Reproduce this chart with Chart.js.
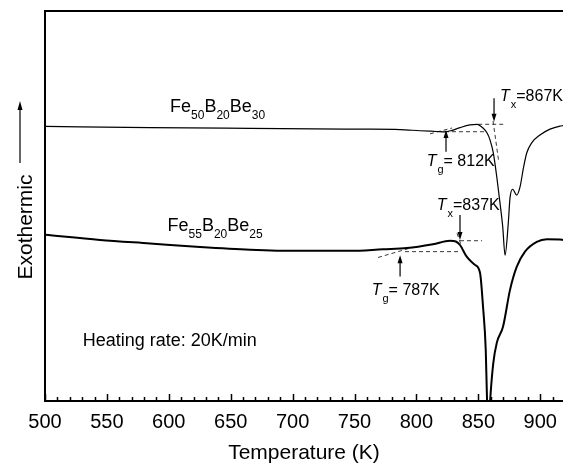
<!DOCTYPE html>
<html>
<head>
<meta charset="utf-8">
<script src="https://cdn.jsdelivr.net/npm/chart.js@4.4.0/dist/chart.umd.min.js"></script>
<style>
  body { margin: 0; background: #fff; }
</style>
</head>
<body>
<canvas id="dsc" width="563" height="466"></canvas>
<script>
// DSC curves, temperature in K, heat flow in arbitrary units (no y scale on the figure)
const tempUpper = [500, 584.8, 665.6, 754.4, 786.8, 802.9, 816.6, 823.1, 828.8, 835.2, 843.3, 849.0, 853.8, 857.1, 859.5, 862.1, 864.9, 867.5, 869.7, 871.6, 874.2, 875.6, 877.8, 881.0, 883.7, 886.4, 889.1, 893.1, 899.8, 907.9, 916.0, 918.4];
const heatUpper = [70.4, 70.1, 69.9, 69.7, 69.6, 69.3, 69.1, 69.0, 69.4, 70.1, 70.8, 70.95, 70.0, 68.7, 66.9, 63.6, 57.5, 50.8, 44.7, 37.4, 45.6, 52.1, 54.3, 52.8, 54.9, 59.7, 63.6, 66.2, 68.2, 69.7, 70.5, 70.6];

const tempLower = [500, 544.4, 584.8, 625.2, 665.6, 706.0, 746.4, 773.0, 792.4, 813.4, 827.1, 831.9, 835.2, 840.6, 847.3, 851.4, 853.8, 856.0, 857.0, 858.3, 859.7, 862.1, 864.9, 870.0, 875.6, 881.0, 887.7, 897.2, 905.3, 916.0, 918.4];
const heatLower = [42.6, 41.3, 40.4, 39.5, 38.8, 38.5, 38.5, 38.9, 39.2, 40.2, 41.1, 40.9, 40.0, 37.0, 34.9, 32.8, 24.2, 13.1, 0.8, -7.4, 0.8, 9.7, 14.9, 19.1, 28.5, 34.4, 38.3, 40.8, 41.5, 41.4, 41.3];

const tickLabels = [500, 550, 600, 650, 700, 750, 800, 850, 900];

// dashed construction lines for Tg / Tx  [t1, v1, t2, v2]
const guideLines = [
  [823.1, 69.05, 855.4, 69.05],
  [811.0, 68.5, 828.8, 70.0],
  [849.9, 70.95, 871.6, 70.95],
  [861.9, 71.8, 866.3, 61.8],
  [790.8, 38.3, 835.2, 38.3],
  [769.0, 36.8, 794.8, 39.2],
  [835.2, 41.1, 853.0, 41.1],
  [832.8, 43.0, 836.9, 39.3]
];

// arrows: temperature, tail value, head value
const arrows = [
  [862.7, 77.6, 71.6],
  [823.9, 63.9, 69.5],
  [835.2, 47.7, 41.3],
  [786.8, 31.9, 37.4]
];

// text labels: '_' = subscript, '*' = italic
const notes = [
  { t: 601.0, v: 74.2, size: 18, parts: ['Fe', '_50', 'B', '_20', 'Be', '_30'] },
  { t: 599.0, v: 43.6, size: 18, parts: ['Fe', '_55', 'B', '_20', 'Be', '_25'] },
  { t: 867.5, v: 76.9, size: 16, parts: ['*T', '_x', '=867K'] },
  { t: 808.3, v: 60.3, size: 16, parts: ['*T', '_g', '= 812K'] },
  { t: 816.4, v: 49.0, size: 16, parts: ['*T', '_x', '=837K'] },
  { t: 763.9, v: 27.2, size: 16, parts: ['*T', '_g', '= 787K'] }
];

const FONT = '"Liberation Sans", Arial, Helvetica, sans-serif';

function pts(xs, ys) {
  return xs.map(function(x, i) { return { x: x, y: ys[i] }; });
}

var datasets = [
  { data: pts(tempUpper, heatUpper), borderColor: '#000', borderWidth: 1.2, cubicInterpolationMode: 'monotone' },
  { data: pts(tempLower, heatLower), borderColor: '#000', borderWidth: 2, cubicInterpolationMode: 'monotone' }
];
guideLines.forEach(function(g) {
  datasets.push({ data: [{ x: g[0], y: g[1] }, { x: g[2], y: g[3] }], borderColor: '#222', borderWidth: 0.9, borderDash: [4, 3] });
});

function drawParts(ctx, x, y, size, parts) {
  var subSize = size >= 18 ? 12 : 11;
  parts.forEach(function(p) {
    var sub = p[0] === '_', ital = p[0] === '*';
    var txt = (sub || ital) ? p.slice(1) : p;
    ctx.font = (ital ? 'italic ' : '') + (sub ? subSize : size) + 'px ' + FONT;
    ctx.fillText(txt, x, sub ? y + 7 : y);
    x += ctx.measureText(txt).width + (ital ? 1 : 0);
  });
}

const decor = {
  id: 'decor',
  afterDraw: function(chart) {
    var ctx = chart.ctx, a = chart.chartArea;
    var xs = chart.scales.x, ys = chart.scales.y;
    ctx.save();
    ctx.strokeStyle = '#000';
    ctx.fillStyle = '#000';

    // frame (right side is cut off in the figure)
    ctx.lineWidth = 2;
    ctx.beginPath();
    ctx.moveTo(chart.width, a.top); ctx.lineTo(a.left, a.top);
    ctx.lineTo(a.left, a.bottom); ctx.lineTo(chart.width, a.bottom);
    ctx.stroke();

    // inward ticks
    ctx.lineWidth = 1.5;
    xs.ticks.forEach(function(t) {
      if (t.value % 10 !== 0) return;
      var px = Math.round(xs.getPixelForValue(t.value)) + 0.5;
      var len = t.value % 50 === 0 ? 7 : 4;
      ctx.beginPath(); ctx.moveTo(px, a.bottom); ctx.lineTo(px, a.bottom - len); ctx.stroke();
    });

    // arrows
    ctx.lineWidth = 1.2;
    arrows.forEach(function(ar) {
      var px = xs.getPixelForValue(ar[0]);
      var y1 = ys.getPixelForValue(ar[1]), y2 = ys.getPixelForValue(ar[2]);
      var dir = y2 > y1 ? 1 : -1;
      ctx.beginPath(); ctx.moveTo(px, y1); ctx.lineTo(px, y2 - dir * 6); ctx.stroke();
      ctx.beginPath(); ctx.moveTo(px, y2); ctx.lineTo(px - 2.5, y2 - dir * 8); ctx.lineTo(px + 2.5, y2 - dir * 8); ctx.closePath(); ctx.fill();
    });

    // labels
    ctx.textBaseline = 'alphabetic';
    ctx.textAlign = 'left';
    notes.forEach(function(n) {
      drawParts(ctx, xs.getPixelForValue(n.t), ys.getPixelForValue(n.v), n.size, n.parts);
    });
    ctx.font = '18px ' + FONT;
    ctx.fillText('Heating rate: 20K/min', xs.getPixelForValue(530.4), ys.getPixelForValue(14.1));

    // y axis label with arrow
    ctx.save();
    ctx.translate(a.left - 19, 227);
    ctx.rotate(-Math.PI / 2);
    ctx.font = '21px ' + FONT;
    ctx.textAlign = 'center';
    ctx.textBaseline = 'middle';
    ctx.fillText('Exothermic', 0, 0);
    ctx.restore();
    var ax = a.left - 25;
    ctx.lineWidth = 1.2;
    ctx.beginPath(); ctx.moveTo(ax, 163); ctx.lineTo(ax, 108); ctx.stroke();
    ctx.beginPath(); ctx.moveTo(ax, 101); ctx.lineTo(ax - 2.5, 110); ctx.lineTo(ax + 2.5, 110); ctx.closePath(); ctx.fill();

    ctx.restore();
  }
};

new Chart(document.getElementById('dsc'), {
  type: 'line',
  data: { datasets: datasets },
  options: {
    responsive: false,
    animation: false,
    devicePixelRatio: 1,
    layout: { padding: { top: 11, right: 0, left: 0, bottom: 0 } },
    elements: { point: { radius: 0 } },
    plugins: { legend: { display: false }, tooltip: { enabled: false } },
    scales: {
      x: {
        type: 'linear',
        min: 500,
        max: 918.4,
        grid: { display: false, drawTicks: false },
        border: { display: false },
        ticks: {
          stepSize: 10,
          includeBounds: false,
          autoSkip: false,
          maxRotation: 0,
          padding: 9,
          color: '#000',
          font: { family: FONT, size: 20 },
          callback: function(v) { return tickLabels.indexOf(v) >= 0 ? String(v) : ''; }
        },
        title: { display: true, text: 'Temperature (K)', color: '#000', font: { family: FONT, size: 21 }, padding: { top: 16, bottom: 0 } },
        afterFit: function(s) { s.height = 65; }
      },
      y: {
        min: 0,
        max: 100,
        grid: { display: false },
        border: { display: false },
        ticks: { display: false },
        afterFit: function(s) { s.width = 45; }
      }
    }
  },
  plugins: [decor]
});
</script>
</body>
</html>
